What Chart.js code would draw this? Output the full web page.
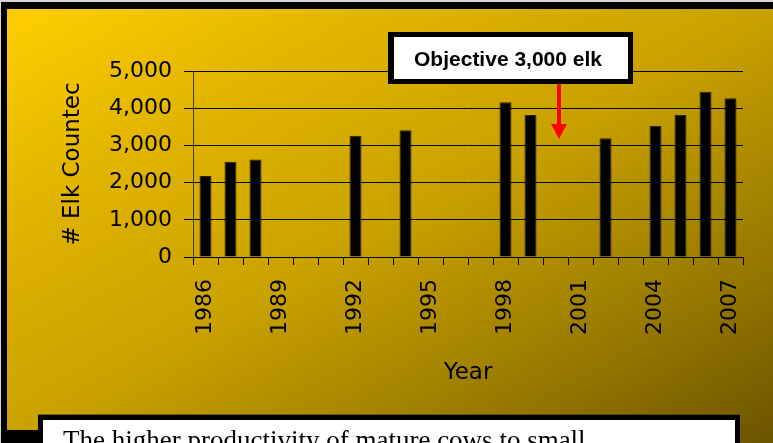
<!DOCTYPE html>
<html>
<head>
<meta charset="utf-8">
<title>Elk counted per year</title>
<script src="https://cdn.jsdelivr.net/npm/chart.js@4.4.1/dist/chart.umd.min.js"></script>
<style>
  html, body { margin: 0; padding: 0; }
  body {
    width: 773px; height: 443px; overflow: hidden;
    position: relative; background: #d6d6d6;
  }
  .frame { position: absolute; left: 1px; top: 2px; right: 0; bottom: 0; background: #000; }
  .panel {
    position: absolute; left: 7px; top: 9px; right: 0; bottom: 0;
    background: linear-gradient(to bottom right, #ffce00 0%, #e0b400 25%, #c9a100 50%, #9c7d00 75%, #6c5400 100%);
  }
  .corner { position: absolute; left: 1px; top: 430px; width: 40px; height: 13px; background: #000; }
  #chart { position: absolute; left: 0; top: 0; }
  .note {
    position: absolute; left: 38px; top: 415px; width: 672px; height: 60px;
    border: 5px solid #000; background: #fff;
    box-shadow: 0 -1px 0 rgba(70, 55, 0, 0.6);
    font: 27px "Liberation Serif", "Times New Roman", serif;
    line-height: 27px; color: #000;
    padding: 7px 0 0 20px; box-sizing: content-box;
    white-space: nowrap; overflow: hidden;
  }
</style>
</head>
<body>
<div class="frame"></div>
<div class="panel"></div>
<div class="corner"></div>
<canvas id="chart" width="773" height="443"></canvas>
<div class="note">The higher productivity of mature cows to small</div>

<script>
// survey years on the category axis (every year, only some counted)
const years = ['1986', '1987', '1988', '1989', '1990', '1991', '1992', '1993',
  '1994', '1995', '1996', '1997', '1998', '1999', '2000', '2001', '2002',
  '2003', '2004', '2005', '2006', '2007'];
// elk counted; null where no survey was flown
const elkCounted = [2180, 2560, 2620, null, null, null, 3260, null,
  3410, null, null, null, 4160, 3820, null, null, 3190,
  null, 3530, 3820, 4440, 4270];
const yearLabels = ['1986', '1989', '1992', '1995', '1998', '2001', '2004', '2007'];
const countTicks = [0, 1000, 2000, 3000, 4000, 5000];

const axisFont = { family: '"DejaVu Sans", Verdana, sans-serif', size: 22 };
const titleFont = { family: '"DejaVu Sans", Verdana, sans-serif', size: 23 };

// boxed objective label with a red arrow pointing down at the bars
const objectiveNote = {
  id: 'objectiveNote',
  afterDraw(chart) {
    const ctx = chart.ctx;
    ctx.save();
    ctx.fillStyle = '#000';
    ctx.fillRect(388, 32, 245, 52);
    ctx.fillStyle = '#fff';
    ctx.fillRect(394, 37, 234, 42);
    ctx.fillStyle = '#000';
    ctx.font = 'bold 21px "Liberation Sans", Arial, sans-serif';
    ctx.textAlign = 'center';
    ctx.textBaseline = 'alphabetic';
    ctx.fillText('Objective 3,000 elk', 508, 66);

    ctx.strokeStyle = '#ff0000';
    ctx.fillStyle = '#ff0000';
    ctx.lineWidth = 4;
    ctx.beginPath();
    ctx.moveTo(559, 84);
    ctx.lineTo(559, 126);
    ctx.stroke();
    ctx.beginPath();
    ctx.moveTo(551, 124);
    ctx.lineTo(567, 124);
    ctx.lineTo(559, 139);
    ctx.closePath();
    ctx.fill();
    ctx.restore();
  }
};

new Chart(document.getElementById('chart'), {
  type: 'bar',
  data: {
    labels: years,
    datasets: [{
      label: '# Elk Counted',
      data: elkCounted,
      backgroundColor: '#000',
      borderColor: '#2a2200',
      borderWidth: 1,
      categoryPercentage: 1,
      barPercentage: 0.48
    }]
  },
  options: {
    responsive: false,
    animation: false,
    layout: { padding: { left: 55, top: 71, right: 30, bottom: 56 } },
    plugins: {
      legend: { display: false },
      tooltip: { enabled: false }
    },
    scales: {
      x: {
        offset: true,
        grid: {
          offset: true,
          drawOnChartArea: false,
          drawTicks: true,
          tickLength: 8,
          color: '#000'
        },
        border: { display: true, color: '#000', width: 1 },
        ticks: {
          autoSkip: false,
          maxRotation: 90,
          minRotation: 90,
          padding: 14,
          color: '#000',
          font: axisFont,
          callback: function (value) {
            const y = this.getLabelForValue(value);
            return yearLabels.includes(y) ? y : '';
          }
        },
        title: {
          display: true,
          text: 'Year',
          color: '#000',
          font: titleFont,
          padding: { top: 4, bottom: 0 }
        },
        afterFit: s => { s.height = 130; }
      },
      y: {
        min: countTicks[0],
        max: countTicks[countTicks.length - 1],
        afterBuildTicks: s => { s.ticks = countTicks.map(v => ({ value: v })); },
        grid: { color: '#000', lineWidth: 1, tickLength: 9 },
        border: { display: true, color: '#4a3c00', width: 1 },
        ticks: {
          padding: 12,
          color: '#000',
          font: axisFont,
          callback: v => v.toLocaleString('en-US')
        },
        title: {
          display: true,
          text: '# Elk Countec',
          color: '#000',
          font: titleFont,
          padding: { top: 4, bottom: 4 }
        },
        afterFit: s => { s.width = 138; }
      }
    }
  },
  plugins: [objectiveNote]
});
</script>
</body>
</html>
